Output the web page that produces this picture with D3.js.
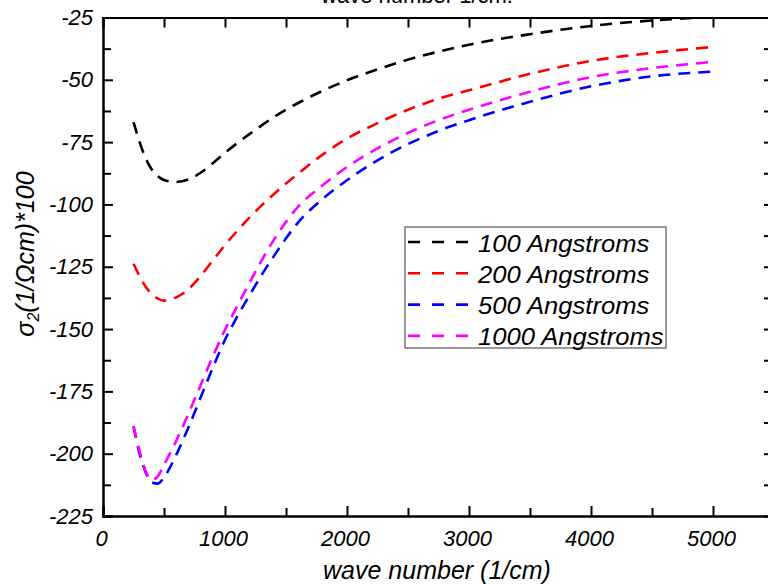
<!DOCTYPE html>
<html><head><meta charset="utf-8">
<script src="https://cdn.jsdelivr.net/npm/d3@7"></script>
<style>
html,body{margin:0;padding:0;background:#fff;}
svg{display:block;}
text{font-family:"Liberation Sans",Arial,sans-serif;font-style:italic;fill:#000;}
</style></head>
<body>
<svg id="c" width="768" height="584"></svg>
<script>
const wavenumbers = [250,300,350,400,450,500,600,700,800,900,1000,1100,1200,1300,1400,1500,1600,1800,2000,2250,2500,2750,3000,3500,4000,4500,5000];
const s100  = [-67,-75,-81.5,-86,-88.7,-90.2,-91,-90,-87.3,-83.5,-79.3,-75.4,-71.8,-68.3,-65,-62,-59.3,-54.4,-50.2,-45.8,-41.9,-38.7,-35.9,-31.7,-28.4,-26.2,-24.8];
const s200  = [-123.8,-128.8,-133,-136,-137.8,-138.6,-137.3,-134,-128.7,-122.5,-116.3,-110.6,-105.3,-100.4,-95.9,-91.6,-87.6,-80,-73.6,-67.4,-62,-57.6,-54.2,-47.6,-42.4,-39.2,-36.8];
const s500  = [-189,-200,-207.5,-211.5,-212,-209.5,-200.5,-189.5,-177.5,-165.5,-154.3,-145,-136.5,-128.3,-120.8,-113.6,-107.2,-97.8,-90.3,-82.3,-75.8,-70.5,-66.2,-58.8,-52.6,-48.6,-46.7];
const s1000 = [-189,-199,-207,-210.5,-209,-204.5,-194.8,-184,-172.5,-161,-150.3,-140.8,-131.5,-122.5,-114.2,-107,-100.9,-92.3,-85,-77.5,-71.3,-66.2,-62,-54.8,-48.9,-45.3,-42.8];
const seriesNames = ["100 Angstroms","200 Angstroms","500 Angstroms","1000 Angstroms"];
const seriesColors = ["#000000","#ff0000","#0000ff","#ff00ff"];
const seriesValues = [s100, s200, s500, s1000];
const xMajorTicks = [0,1000,2000,3000,4000,5000];
const xMinorTicks = [500,1500,2500,3500,4500,5500];
const yMajorTicks = [-225,-200,-175,-150,-125,-100,-75,-50,-25];
const yMinorTicks = [-212.5,-187.5,-162.5,-137.5,-112.5,-87.5,-62.5,-37.5];
const titleText = "wave number 1/cm.";
const xTitle = "wave number (1/cm)";

const svg = d3.select("#c");
const L = 103, T = 17.5, B = 516, R = 774;
const x = d3.scaleLinear().domain([0,5500]).range([L,R]);
const y = d3.scaleLinear().domain([-225,-25]).range([B,T]);
const fmt = d => String(d);

svg.append("defs").append("clipPath").attr("id","clip")
  .append("rect").attr("x",L).attr("y",T).attr("width",R-L).attr("height",B-T);

// series
const line = d3.line().x(d=>x(d[0])).y(d=>y(d[1])).curve(d3.curveMonotoneX);
const plot = svg.append("g").attr("clip-path","url(#clip)");
seriesValues.forEach((vals,i)=>{
  plot.append("path")
    .datum(wavenumbers.map((w,j)=>[w,vals[j]]))
    .attr("d",line).attr("fill","none")
    .attr("stroke",seriesColors[i]).attr("stroke-width",2.6)
    .attr("stroke-dasharray","12,8");
});

function styleAxis(g){
  g.select(".domain").attr("stroke","#000").attr("stroke-width",2);
  g.selectAll(".tick line").attr("stroke","#000").attr("stroke-width",2);
  g.selectAll(".tick text").style("font-size","22px").style("font-style","italic")
    .style("font-family","'Liberation Sans',Arial,sans-serif");
}
// bottom
const gb = svg.append("g").attr("transform",`translate(0,${B})`)
  .call(d3.axisBottom(x).tickValues(xMajorTicks).tickSize(-10).tickPadding(14).tickFormat(fmt));
styleAxis(gb);
gb.selectAll(".tick text").attr("dy","0.71em").attr("dx","-2");
const gbm = svg.append("g").attr("transform",`translate(0,${B})`)
  .call(d3.axisBottom(x).tickValues(xMinorTicks).tickSize(-8).tickFormat(""));
styleAxis(gbm);
// top
const gt = svg.append("g").attr("transform",`translate(0,${T})`)
  .call(d3.axisTop(x).tickValues(xMajorTicks.concat(xMinorTicks)).tickSize(-10).tickFormat(""));
styleAxis(gt);
// left
const gl = svg.append("g").attr("transform",`translate(${L},0)`)
  .call(d3.axisLeft(y).tickValues(yMajorTicks).tickSize(-10).tickPadding(10).tickFormat(fmt));
styleAxis(gl);
const glm = svg.append("g").attr("transform",`translate(${L},0)`)
  .call(d3.axisLeft(y).tickValues(yMinorTicks).tickSize(-8).tickFormat(""));
styleAxis(glm);
// right
const gr = svg.append("g").attr("transform",`translate(${R},0)`)
  .call(d3.axisRight(y).tickValues(yMajorTicks.concat(yMinorTicks)).tickSize(-10).tickFormat(""));
styleAxis(gr);

// titles
svg.append("text").attr("x",437).attr("y",579).attr("text-anchor","middle")
  .style("font-size","25px").text(xTitle);
const yl = svg.append("text").attr("transform","translate(34,254) rotate(-90)")
  .attr("text-anchor","middle").style("font-size","25px");
yl.append("tspan").text("σ");
yl.append("tspan").attr("dy","5").style("font-size","16px").text("2");
yl.append("tspan").attr("dy","-5").text("(1/Ωcm)*100");
svg.append("text").attr("x",417).attr("y",3).attr("text-anchor","middle")
  .style("font-size","22px").style("font-style","normal").text(titleText);

// legend
const lg = svg.append("g");
lg.append("rect").attr("x",405).attr("y",227).attr("width",261).attr("height",121)
  .attr("fill","#fff").attr("stroke","#777").attr("stroke-width",1.5);
seriesNames.forEach((n,i)=>{
  const yy = 242 + i*31.3;
  lg.append("line").attr("x1",408).attr("x2",468).attr("y1",yy).attr("y2",yy)
    .attr("stroke",seriesColors[i]).attr("stroke-width",2.6).attr("stroke-dasharray","12,12");
  const t = lg.append("text").attr("x",478).attr("y",yy+9.5).style("font-size","23.5px").text(n);
  const w = t.node().getComputedTextLength();
  t.attr("textLength",w*1.09).attr("lengthAdjust","spacingAndGlyphs");
});
</script>
</body></html>
